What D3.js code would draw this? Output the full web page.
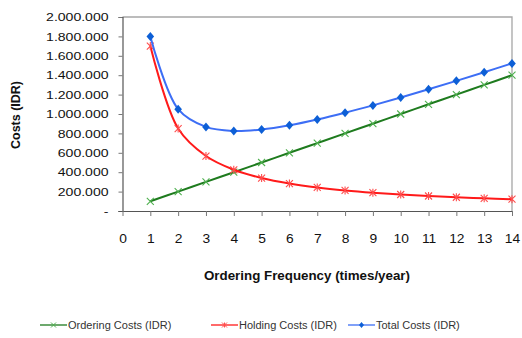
<!DOCTYPE html>
<html>
<head>
<meta charset="utf-8">
<script src="https://cdn.jsdelivr.net/npm/d3@7"></script>
<style>
  html, body { margin: 0; padding: 0; background: #fff; }
  svg { display: block; font-family: "Liberation Sans", Arial, sans-serif; }
</style>
</head>
<body>
<svg id="chart" width="522" height="338"></svg>
<script>
// Ordering frequency (times per year)
const frequency = [1, 2, 3, 4, 5, 6, 7, 8, 9, 10, 11, 12, 13, 14];
// Cost series (IDR)
const orderingCosts = [100000, 200000, 300000, 400000, 500000, 600000, 700000, 800000, 900000, 1000000, 1100000, 1200000, 1300000, 1400000];
const holdingCosts = [1700000, 850000, 566667, 425000, 340000, 283333, 242857, 212500, 188889, 170000, 154545, 141667, 130769, 121429];
const totalCosts = [1800000, 1050000, 866667, 825000, 840000, 883333, 942857, 1012500, 1088889, 1170000, 1254545, 1341667, 1430769, 1521429];
// Axis ticks
const xTicks = [0, 1, 2, 3, 4, 5, 6, 7, 8, 9, 10, 11, 12, 13, 14];
const yTicks = [0, 200000, 400000, 600000, 800000, 1000000, 1200000, 1400000, 1600000, 1800000, 2000000];
const seriesNames = ["Ordering Costs (IDR)", "Holding Costs (IDR)", "Total Costs (IDR)"];

const svg = d3.select("#chart");
const m = { left: 122.5, right: 512, top: 17, bottom: 211 };

const x = d3.scaleLinear().domain([0, 14]).range([m.left, m.right]);
const y = d3.scaleLinear().domain([0, 2000000]).range([m.bottom, m.top]);

// thousands separated with dots, zero shown as a dash
const fmt = v => v === 0 ? "-" : d3.format(",")(v).replace(/,/g, ".");

// widen text glyphs horizontally by a factor
function widen(sel, k) {
  sel.each(function () {
    const w = this.getComputedTextLength();
    d3.select(this).attr("textLength", w * k).attr("lengthAdjust", "spacingAndGlyphs");
  });
}

// plot frame (top and right edges)
svg.append("path")
  .attr("d", `M${m.left},${m.top}H${m.right}V${m.bottom}`)
  .attr("fill", "none").attr("stroke", "#a6a6a6").attr("stroke-width", 1.3);

// y axis
const yAxis = svg.append("g").attr("transform", `translate(${m.left},0)`)
  .call(d3.axisLeft(y).tickValues(yTicks).tickFormat(fmt).tickSize(4).tickPadding(10));
yAxis.select(".domain").attr("stroke", "#555").attr("stroke-width", 1.2);
yAxis.selectAll(".tick line").attr("stroke", "#777");
yAxis.selectAll("text").attr("font-size", 11.5).attr("fill", "#111")
  .attr("font-family", "'Liberation Sans', Arial, sans-serif")
  .call(widen, 1.22);

// x axis
const xAxis = svg.append("g").attr("transform", `translate(0,${m.bottom})`)
  .call(d3.axisBottom(x).tickValues(xTicks).tickFormat(d3.format("d")).tickSize(5).tickPadding(18));
xAxis.select(".domain").attr("stroke", "#555").attr("stroke-width", 1.2)
  .attr("d", `M${m.left - 4},0.5H${m.right}`);
xAxis.selectAll(".tick line").attr("stroke", "#777");
xAxis.selectAll("text").attr("font-size", 12).attr("fill", "#111")
  .attr("font-family", "'Liberation Sans', Arial, sans-serif")
  .call(widen, 1.15);

// axis titles
svg.append("text")
  .attr("transform", "translate(20,115) rotate(-90)")
  .attr("text-anchor", "middle").attr("font-weight", "bold").attr("font-size", 12.5)
  .attr("fill", "#111").text("Costs (IDR)");
svg.append("text")
  .attr("x", 307).attr("y", 280).attr("text-anchor", "middle")
  .attr("font-weight", "bold").attr("font-size", 12.5).attr("fill", "#111")
  .attr("textLength", 206).attr("lengthAdjust", "spacingAndGlyphs")
  .text("Ordering Frequency (times/year)");

const line = d3.line().x(d => x(d[0])).y(d => y(d[1])).curve(d3.curveCatmullRom.alpha(0.5));

const series = [
  { name: seriesNames[0], values: orderingCosts, line: "#1e7b1e", mark: "#4fb04f", marker: "x" },
  { name: seriesNames[1], values: holdingCosts, line: "#ff1a1a", mark: "#ff4d4d", marker: "star" },
  { name: seriesNames[2], values: totalCosts, line: "#3d6ef5", mark: "#0d5fd6", marker: "diamond" }
];

function drawMarker(g, type, color, cx, cy) {
  if (type === "diamond") {
    g.append("path")
      .attr("d", `M${cx},${cy - 4.5}L${cx + 3.8},${cy}L${cx},${cy + 4.5}L${cx - 3.8},${cy}Z`)
      .attr("fill", color);
  } else {
    const s = 3.5;
    let d = `M${cx - s},${cy - s}L${cx + s},${cy + s}M${cx - s},${cy + s}L${cx + s},${cy - s}`;
    if (type === "star") d += `M${cx},${cy - s - 0.5}L${cx},${cy + s + 0.5}`;
    g.append("path").attr("d", d).attr("stroke", color).attr("stroke-width", 1.1).attr("fill", "none");
  }
}

series.forEach(s => {
  const pts = frequency.map((f, i) => [f, s.values[i]]);
  const g = svg.append("g");
  g.append("path").datum(pts).attr("d", line)
    .attr("fill", "none").attr("stroke", s.line).attr("stroke-width", 2);
  pts.forEach(p => drawMarker(g, s.marker, s.mark, x(p[0]), y(p[1])));
});

// legend
const legendX = [40, 211, 348];
series.forEach((s, i) => {
  const g = svg.append("g");
  const lx = legendX[i], ly = 325;
  g.append("line").attr("x1", lx).attr("x2", lx + 27).attr("y1", ly).attr("y2", ly)
    .attr("stroke", s.line).attr("stroke-width", 1.3);
  if (s.marker === "diamond") {
    g.append("path")
      .attr("d", `M${lx + 13.5},${ly - 3}L${lx + 16},${ly}L${lx + 13.5},${ly + 3}L${lx + 11},${ly}Z`)
      .attr("fill", s.mark);
  } else {
    const c = lx + 13.5, r = 2.5;
    let d = `M${c - r},${ly - r}L${c + r},${ly + r}M${c - r},${ly + r}L${c + r},${ly - r}`;
    if (s.marker === "star") d += `M${c},${ly - r}L${c},${ly + r}`;
    g.append("path").attr("d", d).attr("stroke", s.mark).attr("stroke-width", 1);
  }
  g.append("text").attr("x", lx + 28).attr("y", ly + 3.5)
    .attr("font-size", 10).attr("fill", "#333").text(s.name)
    .call(widen, 1.1);
});
</script>
</body>
</html>
